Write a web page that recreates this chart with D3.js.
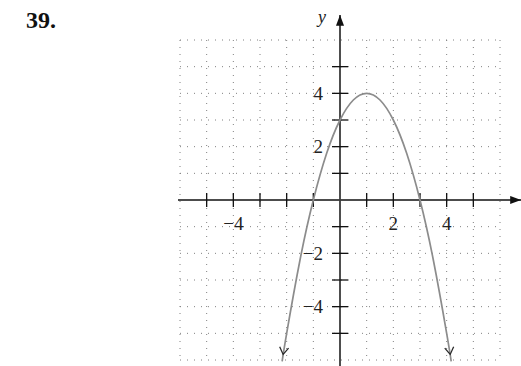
<!DOCTYPE html>
<html>
<head>
<meta charset="utf-8">
<script src="https://cdn.jsdelivr.net/npm/d3@7/dist/d3.min.js"></script>
<style>
    html, body { margin: 0; padding: 0; background: #fff; }
    svg { display: block; }
    .grid line { stroke: #808080; stroke-width: 1; stroke-dasharray: 1,6; }
    .tick-label { font-family: "Liberation Serif", "Times New Roman", Times, serif; font-size: 19px; fill: #222; }
</style>
</head>
<body>
<svg id="chart"></svg>
<script>
// values
var problemNumber = '39.';
var gridValues = [-6, -5, -4, -3, -2, -1, 1, 2, 3, 4, 5, 6];
var tickValues = [-5, -4, -3, -2, -1, 1, 2, 3, 4, 5];
var xTickLabels = [-4, 2, 4];
var yTickLabels = [-4, -2, 2, 4];
var curveX = [-2.17, -2, -1.5, -1, -0.5, 0, 0.5, 1, 1.5, 2, 2.5, 3, 3.5, 4, 4.17];
var curveY = [-6.05, -5, -2.25, 0, 1.75, 3, 3.75, 4, 3.75, 3, 1.75, 0, -2.25, -5, -6.05];

(function () {
    var width = 521,
        height = 366,
        serif = '"Liberation Serif", "Times New Roman", Times, serif';

    var svg = d3.select('#chart').attr('width', width).attr('height', height);

    var x = d3.scaleLinear().domain([-6, 6]).range([180, 500]);
    var y = d3.scaleLinear().domain([-6, 6]).range([360, 40]);

    function minusLabel(v) {
        return v < 0 ? '\u2212' + Math.abs(v) : String(v);
    }

    var defs = svg.append('defs');

    defs.append('marker')
        .attr('id', 'axisArrow')
        .attr('viewBox', '0 -5 12 10')
        .attr('refX', 12)
        .attr('refY', 0)
        .attr('markerUnits', 'userSpaceOnUse')
        .attr('markerWidth', 13)
        .attr('markerHeight', 9)
        .attr('orient', 'auto')
        .append('path')
        .attr('d', 'M0,-4.5L12,0L0,4.5Z')
        .attr('fill', '#111');

    // open chevron sitting a few pixels before the end of the curve
    defs.append('marker')
        .attr('id', 'curveArrow')
        .attr('viewBox', '-9 -6 18 12')
        .attr('refX', 7)
        .attr('refY', 0)
        .attr('markerUnits', 'userSpaceOnUse')
        .attr('markerWidth', 18)
        .attr('markerHeight', 12)
        .attr('orient', 'auto-start-reverse')
        .append('path')
        .attr('d', 'M-7,-4.5L0,0L-7,4.5')
        .attr('fill', 'none')
        .attr('stroke', '#2a2a2a')
        .attr('stroke-width', 1.3);

    // dotted grid
    var grid = svg.append('g').attr('class', 'grid');

    grid.selectAll('line.v')
        .data(gridValues)
        .enter().append('line')
        .attr('class', 'v')
        .attr('x1', function (d) { return x(d); })
        .attr('x2', function (d) { return x(d); })
        .attr('y1', y(6))
        .attr('y2', y(-6));

    grid.selectAll('line.h')
        .data(gridValues)
        .enter().append('line')
        .attr('class', 'h')
        .attr('y1', function (d) { return y(d); })
        .attr('y2', function (d) { return y(d); })
        .attr('x1', x(-6))
        .attr('x2', x(6));

    // axes
    svg.append('line')
        .attr('x1', x(-6) - 2).attr('x2', width)
        .attr('y1', y(0)).attr('y2', y(0))
        .attr('stroke', '#111').attr('stroke-width', 1.5)
        .attr('marker-end', 'url(#axisArrow)');

    svg.append('line')
        .attr('x1', x(0)).attr('x2', x(0))
        .attr('y1', height).attr('y2', 15)
        .attr('stroke', '#3a3a3a').attr('stroke-width', 1.8)
        .attr('marker-end', 'url(#axisArrow)');

    svg.selectAll('line.xtick')
        .data(tickValues)
        .enter().append('line')
        .attr('class', 'xtick')
        .attr('x1', function (d) { return x(d); })
        .attr('x2', function (d) { return x(d); })
        .attr('y1', y(0) - 7)
        .attr('y2', y(0) + 7)
        .attr('stroke', '#111').attr('stroke-width', 1.3);

    svg.selectAll('line.ytick')
        .data(tickValues)
        .enter().append('line')
        .attr('class', 'ytick')
        .attr('y1', function (d) { return y(d); })
        .attr('y2', function (d) { return y(d); })
        .attr('x1', x(0) - 8)
        .attr('x2', x(0) + 8)
        .attr('stroke', '#111').attr('stroke-width', 1.3);

    svg.selectAll('text.xlabel')
        .data(xTickLabels)
        .enter().append('text')
        .attr('class', 'tick-label xlabel')
        .attr('x', function (d) { return x(d); })
        .attr('y', y(0) + 30)
        .attr('text-anchor', 'middle')
        .text(minusLabel);

    svg.selectAll('text.ylabel')
        .data(yTickLabels)
        .enter().append('text')
        .attr('class', 'tick-label ylabel')
        .attr('x', x(0) - 17)
        .attr('y', function (d) { return y(d) + 6.5; })
        .attr('text-anchor', 'end')
        .text(minusLabel);

    svg.append('text')
        .attr('x', x(0) - 22)
        .attr('y', 23)
        .attr('font-family', serif)
        .attr('font-style', 'italic')
        .attr('font-size', 18)
        .attr('fill', '#222')
        .text('y');

    svg.append('text')
        .attr('x', 26)
        .attr('y', 28)
        .attr('font-family', serif)
        .attr('font-weight', 'bold')
        .attr('font-size', 24)
        .attr('fill', '#111')
        .text(problemNumber);

    // the parabola, both ends arrowed
    var points = curveX.map(function (d, i) { return [d, curveY[i]]; });

    var line = d3.line()
        .x(function (d) { return x(d[0]); })
        .y(function (d) { return y(d[1]); })
        .curve(d3.curveNatural);

    svg.append('path')
        .datum(points)
        .attr('d', line)
        .attr('fill', 'none')
        .attr('stroke', '#8c8c8c')
        .attr('stroke-width', 1.7)
        .attr('marker-start', 'url(#curveArrow)')
        .attr('marker-end', 'url(#curveArrow)');
})();
</script>
</body>
</html>
